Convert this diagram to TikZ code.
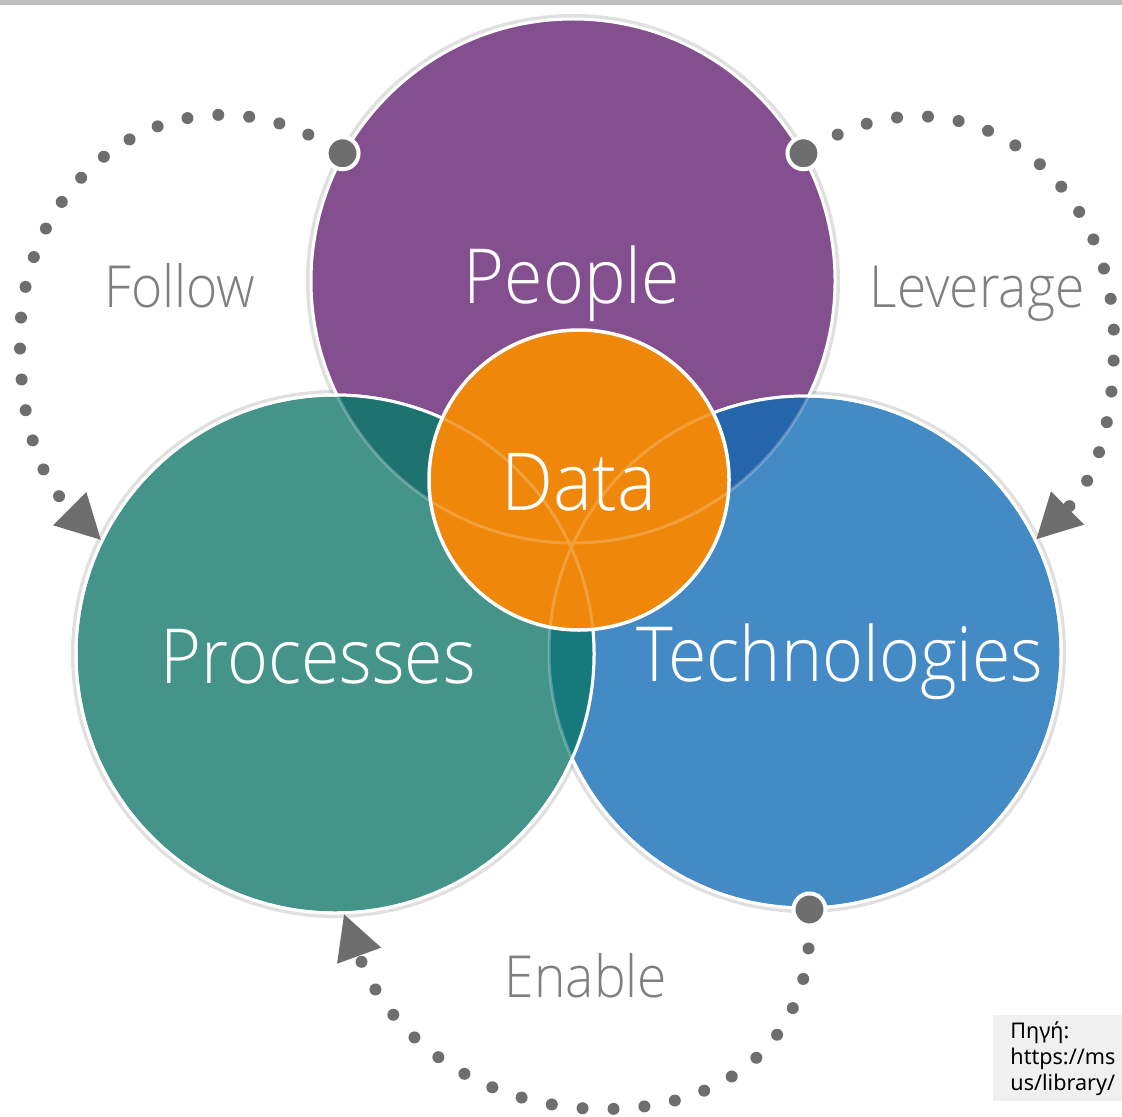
\documentclass[tikz,border=0pt]{standalone}
\usepackage{fontspec}
\usetikzlibrary{arrows.meta}
\newfontfamily\lightfont{Open Sans Light}[FakeStretch=0.92]
\newfontfamily\srcfont{Noto Sans}
\definecolor{peoplecol}{HTML}{834F8E}
\definecolor{proccol}{HTML}{45948A}
\definecolor{techcol}{HTML}{448AC5}
\definecolor{datacol}{HTML}{EE870A}
\definecolor{pptech}{HTML}{2565A9}
\definecolor{ppproc}{HTML}{1E7371}
\definecolor{proctech}{HTML}{167A7D}
\definecolor{dotgray}{HTML}{6E6E6E}
\definecolor{wordgray}{HTML}{7F7F7F}
\tikzset{
  big/.style={circle, inner sep=0pt, draw=white, line width=1.5pt},
  halo/.style={draw=black, opacity=.12, line width=3pt},
  rim/.style={draw=white, line width=1.5pt},
  faint/.style={draw=white, opacity=.25, line width=1.5pt},
  joint/.style={circle, inner sep=0pt, minimum size=16pt, fill=dotgray, draw=white, line width=2pt},
  dotarc/.style={draw=dotgray, line width=6pt, line cap=round, dash pattern=on 0pt off 15.5pt, dash phase=5pt,
    -{Triangle[length=22pt,width=23.5pt,line width=0pt]}},
  intxt/.style={font=\lightfont\fontsize{38}{40}\selectfont, text=white, anchor=base, inner sep=0pt},
  outtxt/.style={font=\lightfont\fontsize{29}{31}\selectfont, text=wordgray, anchor=base, inner sep=0pt},
  srcbox/.style={fill=black!6, anchor=north west, text width=70pt, inner xsep=8.5pt, inner ysep=3pt, align=left,
    font=\srcfont\fontsize{10.8}{13}\selectfont}
}
\begin{document}
\begin{tikzpicture}[x=0.5pt,y=0.5pt]
\useasboundingbox (0,0) rectangle (1122,1116);
\fill[black!25] (0,1111) rectangle (1122,1116);

% shadows
\foreach \cx/\cy/\r in {573/835/132, 805/464/129, 335/462/130.5}
  \draw[halo] (\cx,\cy) circle[radius=\r pt];

% the three circles
\node[big, fill=peoplecol, minimum size=262pt] (people) at (573,835) {};
\node[big, fill=techcol, minimum size=256pt] (tech) at (805,464) {};
\begin{scope}
  \clip (tech.center) circle[radius=128pt];
  \fill[pptech] (people.center) circle[radius=131pt];
  \draw[faint] (people.center) circle[radius=131pt];
\end{scope}
\draw[rim] (tech.center) circle[radius=128pt];
\node[big, fill=proccol, minimum size=259pt] (proc) at (335,462) {};
\begin{scope}
  \clip (proc.center) circle[radius=129.5pt];
  \fill[ppproc] (people.center) circle[radius=131pt];
  \fill[proctech] (tech.center) circle[radius=128pt];
  \draw[faint] (people.center) circle[radius=131pt] (tech.center) circle[radius=128pt];
\end{scope}
\draw[rim] (proc.center) circle[radius=129.5pt];

% data in the middle
\node[big, fill=datacol, line width=1.75pt, minimum size=150pt] (data) at (579,636) {};
\begin{scope}
  \clip (data.center) circle[radius=74pt];
  \draw[faint, opacity=.2] (people.center) circle[radius=131pt] (tech.center) circle[radius=128pt]
    (proc.center) circle[radius=129.5pt];
\end{scope}

\node[intxt] (tpeople) at (572,813) {People};
\node[intxt] (tproc) at (318,433) {Processes};
\node[intxt] (ttech) at (840,435) {Technologies};
\node[intxt, font=\lightfont\fontsize{40}{42}\selectfont] (tdata) at (579,606) {Data};

% dotted arrows
\node[joint] (jfollow) at (people.151) {};
\node[joint] (jlever) at (people.29.5) {};
\node[joint] (jenable) at (tech.-89) {};
\draw[dotarc] (jfollow) to[out=150,in=90,looseness=1.2] (20,775) to[out=-90,in=135] (proc.154);
\draw[dotarc] (jlever) to[out=30,in=90,looseness=1.2] (1114,775) to[out=-90,in=45] (tech.26);
\draw[dotarc] (jenable) to[out=-90,in=0,looseness=1.1] (605,7) to[out=180,in=-70] (proc.-88);

\node[outtxt] (follow) at (180,809) {Follow};
\node[outtxt] (leverage) at (977,809) {Leverage};
\node[outtxt] (enable) at (586,119) {Enable};

\node[srcbox] (src) at (993,101) {Πηγή:\\https://ms\\us/library/};
\end{tikzpicture}
\end{document}
